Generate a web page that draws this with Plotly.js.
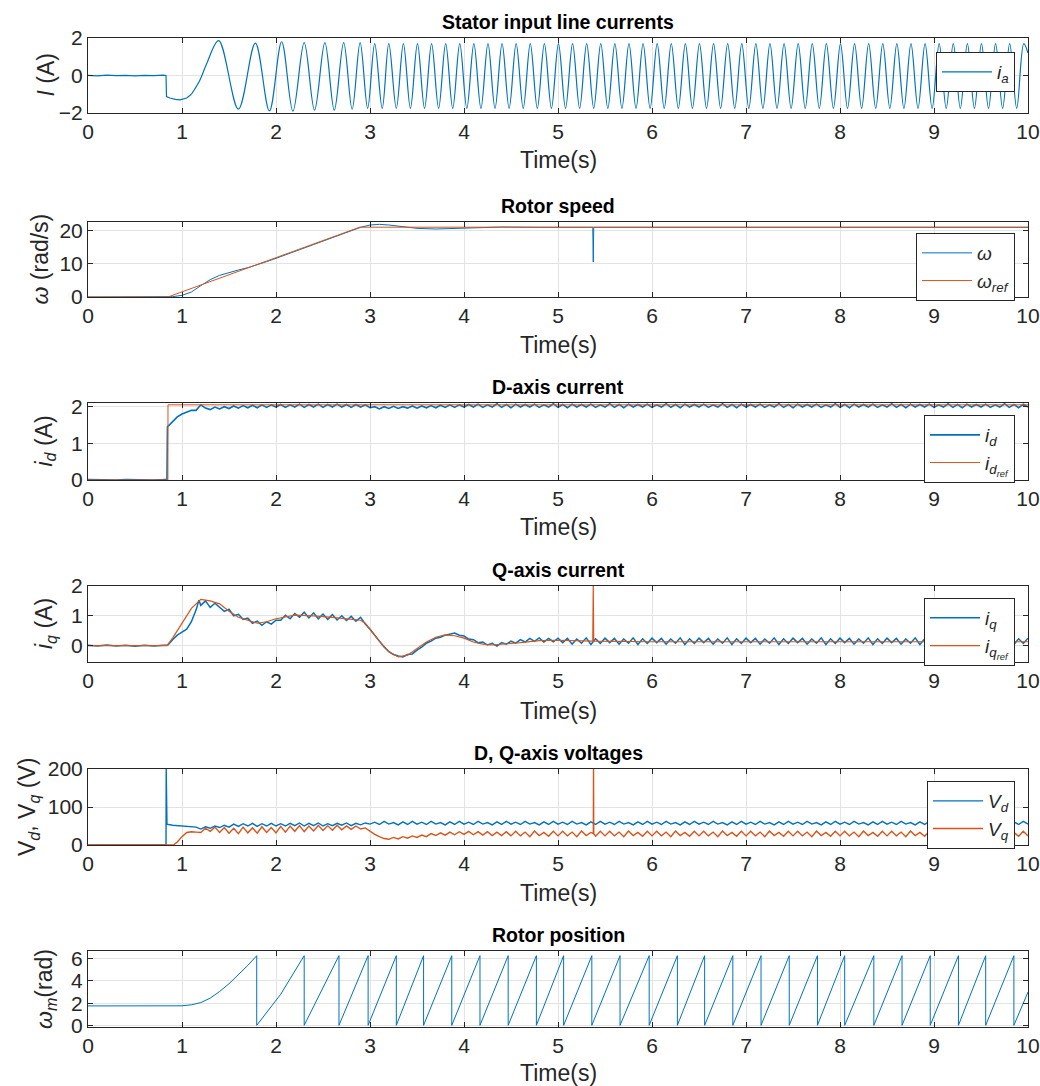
<!DOCTYPE html>
<html><head><meta charset="utf-8">
<script src="https://cdn.plot.ly/plotly-3.0.1.min.js"></script>
<style>html,body{margin:0;padding:0;background:#fff}#c{width:1040px;height:1086px}</style>
</head><body><div id="c"></div>
<script>
// ---- Stator current i_a ----
const iaStartT = [0,0.1,0.2,0.3,0.4,0.5,0.6,0.7,0.8,0.83,0.835,0.87,0.93,0.98,1.05,1.1];
const iaStartV = [0.01,-0.02,0.02,-0.01,0.01,-0.02,0.01,-0.01,0.02,0,-1.12,-1.2,-1.27,-1.3,-1.2,-1.0];
const iaExtT = [1.1,1.19,1.26,1.39,1.6,1.78,1.93,2.06,2.18,2.3,2.41,2.52,2.62,2.72,2.81,2.895,2.975,3.05,3.13,3.2,3.28,3.355,3.43,3.505,3.58,3.655,3.73,3.805,3.88,3.955,4.03,4.105,4.18,4.255,4.33,4.405,4.48,4.555,4.63,4.705,4.78,4.855,4.93,5.005,5.08,5.155,5.23,5.305,5.38,5.455,5.53,5.605,5.68,5.755,5.83,5.905,5.98,6.055,6.13,6.205,6.28,6.355,6.43,6.505,6.58,6.655,6.73,6.805,6.88,6.955,7.03,7.105,7.18,7.255,7.33,7.405,7.48,7.555,7.63,7.705,7.78,7.855,7.93,8.005,8.08,8.155,8.23,8.305,8.38,8.455,8.53,8.605,8.68,8.755,8.83,8.905,8.98,9.055,9.13,9.205,9.28,9.355,9.43,9.505,9.58,9.655,9.73,9.805,9.88,9.955,10.0];
const iaExtV = [-1.0,-0.25,0.6,1.86,-1.79,1.73,-1.89,1.8,-1.9,1.75,-1.85,1.75,-1.85,1.75,-1.8,1.75,-1.75,1.7,-1.75,1.7,-1.75,1.7,-1.75,1.7,-1.75,1.7,-1.75,1.7,-1.75,1.7,-1.75,1.7,-1.75,1.7,-1.75,1.7,-1.75,1.7,-1.75,1.7,-1.75,1.7,-1.75,1.7,-1.75,1.7,-1.75,1.7,-1.75,1.7,-1.75,1.7,-1.75,1.7,-1.75,1.7,-1.75,1.7,-1.75,1.7,-1.75,1.7,-1.75,1.7,-1.75,1.7,-1.75,1.7,-1.75,1.7,-1.75,1.7,-1.75,1.7,-1.75,1.7,-1.75,1.7,-1.75,1.7,-1.75,1.7,-1.75,1.7,-1.75,1.7,-1.75,1.7,-1.75,1.7,-1.75,1.7,-1.75,1.7,-1.75,1.7,-1.75,1.7,-1.75,1.7,-1.75,1.7,-1.75,1.7,-1.75,1.7,-1.75,1.7,-1.75,1.7,1.2];

// ---- Rotor speed ----
const wT = [0,0.87,0.9,1.0,1.05,1.1,1.2,1.3,1.4,1.5,1.6,1.7,1.8,1.9,2.0,2.2,2.4,2.6,2.8,2.9,3.0,3.1,3.2,3.3,3.5,3.7,3.9,4.1,4.4,4.8,5.37,5.375,5.38,10];
const wV = [0,0,0.1,0.5,0.9,1.5,3.4,5.2,6.5,7.4,8.1,8.8,9.6,10.6,11.6,13.7,15.8,17.9,20.0,20.9,21.6,21.8,21.6,21.2,20.6,20.4,20.6,20.9,21.0,20.9,20.9,10.5,20.9,20.9];
const wRefT = [0,0.85,2.89,10];
const wRefV = [0,0,20.94,20.94];

// ---- common time grid (1.2 s .. 10 s) for the rippled signals ----
const tFine = [1.2,1.25,1.3,1.35,1.4,1.45,1.5,1.55,1.6,1.65,1.7,1.75,1.8,1.85,1.9,1.95,2.0,
2.05,2.1,2.15,2.2,2.25,2.3,2.35,2.4,2.45,2.5,2.55,2.6,2.65,2.7,2.75,2.8,2.85,2.9,2.95,3.0,
3.05,3.1,3.15,3.2,3.25,3.3,3.35,3.4,3.45,3.5,3.55,3.6,3.65,3.7,3.75,3.8,3.85,3.9,3.95,4.0,
4.05,4.1,4.15,4.2,4.25,4.3,4.35,4.4,4.45,4.5,4.55,4.6,4.65,4.7,4.75,4.8,4.85,4.9,4.95,5.0,
5.05,5.1,5.15,5.2,5.25,5.3,5.35,5.4,5.45,5.5,5.55,5.6,5.65,5.7,5.75,5.8,5.85,5.9,5.95,6.0,
6.05,6.1,6.15,6.2,6.25,6.3,6.35,6.4,6.45,6.5,6.55,6.6,6.65,6.7,6.75,6.8,6.85,6.9,6.95,7.0,
7.05,7.1,7.15,7.2,7.25,7.3,7.35,7.4,7.45,7.5,7.55,7.6,7.65,7.7,7.75,7.8,7.85,7.9,7.95,8.0,
8.05,8.1,8.15,8.2,8.25,8.3,8.35,8.4,8.45,8.5,8.55,8.6,8.65,8.7,8.75,8.8,8.85,8.9,8.95,9.0,
9.05,9.1,9.15,9.2,9.25,9.3,9.35,9.4,9.45,9.5,9.55,9.6,9.65,9.7,9.75,9.8,9.85,9.9,9.95,10.0];

// ---- D-axis current ----
const idPreT = [0,0.1,0.2,0.3,0.4,0.5,0.6,0.7,0.8,0.84,0.845,0.9,0.95,1.0,1.05,1.1,1.15];
const idPreV = [0.01,0.0,0.01,0.0,0.01,0.0,0.01,0.0,0.01,0.02,1.45,1.6,1.72,1.8,1.85,1.9,1.9];
const idFineV = [2.05,1.96,1.92,1.99,1.94,2.0,1.95,2.02,1.96,2.03,1.97,2.04,1.97,2.05,1.98,2.05,1.99,
2.06,1.98,2.05,1.99,2.07,1.98,2.06,1.99,2.07,1.98,2.06,1.99,2.07,1.99,2.06,1.98,2.06,1.99,2.05,1.97,
2.0,1.94,2.0,1.95,2.01,1.95,2.0,1.96,2.02,1.96,2.02,1.97,2.03,1.97,2.04,1.98,2.05,1.98,2.05,1.99,
2.06,1.99,2.07,1.98,2.05,1.99,2.08,1.98,2.06,1.97,2.07,1.99,2.06,1.99,2.07,1.98,2.05,1.99,2.08,1.98,
2.06,1.97,2.07,1.99,2.06,1.99,2.07,1.98,2.05,1.99,2.08,1.98,2.06,1.97,2.07,1.99,2.06,1.99,2.07,1.98,
2.05,1.99,2.08,1.98,2.06,1.97,2.07,1.99,2.06,1.99,2.07,1.98,2.05,1.99,2.08,1.98,2.06,1.97,2.07,1.99,
2.06,1.99,2.07,1.98,2.05,1.99,2.08,1.98,2.06,1.97,2.07,1.99,2.06,1.99,2.07,1.98,2.05,1.99,2.08,1.98,
2.06,1.97,2.07,1.99,2.06,1.99,2.07,1.98,2.05,1.99,2.08,1.98,2.06,1.97,2.07,1.99,2.06,1.99,2.07,1.98,
2.05,1.99,2.08,1.98,2.06,1.97,2.07,1.99,2.06,1.99,2.07,1.98,2.05,1.99,2.08,1.98,2.06,1.97,2.07,1.99];
const idRefT = [0,0.85,0.851,10];
const idRefV = [0,0,2.05,2.05];

// ---- Q-axis current ----
const iqPreT = [0,0.1,0.2,0.3,0.4,0.5,0.6,0.7,0.8,0.85,0.9,0.95,1.0,1.05,1.1,1.15,1.18];
const iqPreV = [0.01,-0.01,0.02,-0.01,0.01,-0.02,0.01,-0.01,0.01,0.02,0.2,0.35,0.45,0.55,0.8,1.2,1.52];
const iqFineV = [1.35,1.5,1.28,1.42,1.3,1.15,1.22,1.0,1.05,0.88,0.92,0.75,0.82,0.68,0.8,0.72,0.85,
0.85,1.02,0.9,1.08,0.95,1.12,0.93,1.1,0.9,1.06,0.88,1.04,0.86,1.0,0.84,0.98,0.82,0.95,0.72,0.55,
0.35,0.15,-0.05,-0.2,-0.3,-0.35,-0.38,-0.3,-0.28,-0.15,-0.05,0.08,0.15,0.25,0.28,0.35,0.38,0.42,0.35,0.32,
0.22,0.2,0.1,0.12,0.02,0.08,-0.02,0.1,0.05,0.15,0.08,0.2,0.12,0.24,0.14,0.26,0.12,0.24,0.13,0.25,
0.1,0.24,0.05,0.22,0.08,0.26,0.04,0.23,0.07,0.25,0.1,0.24,0.05,0.22,0.08,0.26,0.04,0.23,0.07,0.25,
0.1,0.24,0.05,0.22,0.08,0.26,0.04,0.23,0.07,0.25,0.1,0.24,0.05,0.22,0.08,0.26,0.04,0.23,0.07,0.25,
0.1,0.24,0.05,0.22,0.08,0.26,0.04,0.23,0.07,0.25,0.1,0.24,0.05,0.22,0.08,0.26,0.04,0.23,0.07,0.25,
0.1,0.24,0.05,0.22,0.08,0.26,0.04,0.23,0.07,0.25,0.1,0.24,0.05,0.22,0.08,0.26,0.04,0.23,0.07,0.25,
0.1,0.24,0.05,0.22,0.08,0.26,0.04,0.23,0.07,0.25,0.1,0.24,0.05,0.22,0.08,0.26,0.04,0.23,0.07,0.25];
const iqRefT = [0,0.84,0.9,1.0,1.1,1.2,1.3,1.4,1.5,1.6,1.7,1.8,1.9,2.0,2.2,2.4,2.6,2.8,2.9,2.95,3.0,3.1,3.2,3.3,3.4,3.5,3.6,3.7,3.8,3.9,4.0,4.1,4.2,4.3,4.4,4.6,4.8,5.0,5.37,5.375,5.38,6,7,8,9,10];
const iqRefV = [0,0,0.25,0.75,1.25,1.55,1.5,1.4,1.15,0.95,0.85,0.75,0.8,0.9,1.02,1.0,0.95,0.9,0.85,0.75,0.55,0.15,-0.2,-0.38,-0.32,-0.1,0.12,0.28,0.36,0.33,0.25,0.12,0.05,0.02,0.04,0.1,0.17,0.18,0.15,2.0,0.15,0.13,0.13,0.13,0.13,0.13];

// ---- D, Q-axis voltages ----
const vdPreT = [0,0.83,0.832,0.84,0.9,1.0,1.1,1.15];
const vdPreV = [0,0,200,55,52,50,48,47];
const vdFineV = [42,48,44,50,46,52,47,55,49,56,50,57,49,56,50,57,50,
56,50,57,51,58,50,57,51,58,50,56,51,57,52,58,51,57,53,58,55,
60,54,62,55,59,53,61,54,62,55,60,54,62,55,59,53,61,54,62,55,
60,54,62,55,59,53,61,54,62,55,60,54,62,55,59,53,61,54,62,55,
60,54,62,55,59,53,61,54,62,55,60,54,62,55,59,53,61,54,62,55,
60,54,62,55,59,53,61,54,62,55,60,54,62,55,59,53,61,54,62,55,
60,54,62,55,59,53,61,54,62,55,60,54,62,55,59,53,61,54,62,55,
60,54,62,55,59,53,61,54,62,55,60,54,62,55,59,53,61,54,62,55,
60,54,62,55,59,53,61,54,62,55,60,54,62,55,59,53,61,54,62,55];
const vqPreT = [0,0.91,0.95,1.0,1.05,1.1,1.15];
const vqPreV = [0,0,8,22,33,35,34];
const vqFineV = [33,44,36,47,33,46,31,44,30,47,32,45,31,48,33,46,32,
49,34,50,36,51,35,50,37,52,38,51,39,52,40,50,41,50,42,45,36,
28,22,17,15,20,16,22,18,24,20,26,22,30,25,32,26,34,27,35,28,
36,27,35,26,35,25,34,25,35,24,36,24,34,22,37,25,33,23,36,24,
36,24,34,22,37,25,33,23,36,24,36,24,34,22,37,25,33,23,36,24,
36,24,34,22,37,25,33,23,36,24,36,24,34,22,37,25,33,23,36,24,
36,24,34,22,37,25,33,23,36,24,36,24,34,22,37,25,33,23,36,24,
36,24,34,22,37,25,33,23,36,24,36,24,34,22,37,25,33,23,36,24,
36,24,34,22,37,25,33,23,36,24,36,24,34,22,37,25,33,23,36,24];
const vqSpikeT = [5.376,5.378,5.38];
const vqSpikeV = [30,200,30];

// ---- Rotor position ----
const posT = [0,1.0,1.1,1.2,1.3,1.4,1.5,1.6,1.7,1.795,1.795,2.05,2.3,2.3,2.67,2.67,2.98,2.98,3.28,3.28,3.57,3.57,3.87,3.87,4.17,4.17,4.47,4.47,4.77,4.77,5.06,5.06,5.36,5.36,5.66,5.66,5.97,5.97,6.27,6.27,6.56,6.56,6.86,6.86,7.16,7.16,7.46,7.46,7.76,7.76,8.05,8.05,8.36,8.36,8.66,8.66,8.96,8.96,9.26,9.26,9.55,9.55,9.85,9.85,10.0];
const posV = [1.75,1.76,1.85,2.05,2.45,3.05,3.75,4.55,5.4,6.28,0,2.8,6.28,0,6.28,0,6.28,0,6.28,0,6.28,0,6.28,0,6.28,0,6.28,0,6.28,0,6.28,0,6.28,0,6.28,0,6.28,0,6.28,0,6.28,0,6.28,0,6.28,0,6.28,0,6.28,0,6.28,0,6.28,0,6.28,0,6.28,0,6.28,0,6.28,0,6.28,0,3.0];

function merge(tA, vA, tB, vB){
  const p = tA.map((t,i)=>[t,vA[i]]).concat(tB.map((t,i)=>[t,vB[i]]));
  p.sort((a,b)=>a[0]-b[0]);
  return {x:p.map(q=>q[0]), y:p.map(q=>q[1])};
}
const vq = merge(vqPreT.concat(tFine), vqPreV.concat(vqFineV), vqSpikeT, vqSpikeV);

const BLUE = '#0072BD', ORANGE = '#D95319';
const traces = [
  {x: iaStartT, y: iaStartV, xaxis:'x', yaxis:'y', mode:'lines', line:{color:BLUE,width:1.2}, showlegend:false, legend:'legend'},
  {x: iaExtT, y: iaExtV, xaxis:'x', yaxis:'y', mode:'lines', line:{color:BLUE,width:1.2,shape:'spline',smoothing:1}, name:'<i>i<sub>a</sub></i>', legend:'legend'},
  {x: wT, y: wV, xaxis:'x2', yaxis:'y2', mode:'lines', line:{color:BLUE,width:1}, name:'<i>ω</i>', legend:'legend2'},
  {x: wRefT, y: wRefV, xaxis:'x2', yaxis:'y2', mode:'lines', line:{color:ORANGE,width:1}, name:'<i>ω<sub>ref</sub></i>', legend:'legend2'},
  {x: idPreT.concat(tFine), y: idPreV.concat(idFineV), xaxis:'x3', yaxis:'y3', mode:'lines', line:{color:BLUE,width:1.6}, name:'<i>i<sub>d</sub></i>', legend:'legend3'},
  {x: idRefT, y: idRefV, xaxis:'x3', yaxis:'y3', mode:'lines', line:{color:ORANGE,width:1}, name:'<i>i<sub>d<sub>ref</sub></sub></i>', legend:'legend3'},
  {x: iqPreT.concat(tFine), y: iqPreV.concat(iqFineV), xaxis:'x4', yaxis:'y4', mode:'lines', line:{color:BLUE,width:1.5}, name:'<i>i<sub>q</sub></i>', legend:'legend4'},
  {x: iqRefT, y: iqRefV, xaxis:'x4', yaxis:'y4', mode:'lines', line:{color:ORANGE,width:1.2}, name:'<i>i<sub>q<sub>ref</sub></sub></i>', legend:'legend4'},
  {x: vdPreT.concat(tFine), y: vdPreV.concat(vdFineV), xaxis:'x5', yaxis:'y5', mode:'lines', line:{color:BLUE,width:1.4}, name:'<i>V<sub>d</sub></i>', legend:'legend5'},
  {x: vq.x, y: vq.y, xaxis:'x5', yaxis:'y5', mode:'lines', line:{color:ORANGE,width:1.4}, name:'<i>V<sub>q</sub></i>', legend:'legend5'},
  {x: posT, y: posV, xaxis:'x6', yaxis:'y6', mode:'lines', line:{color:BLUE,width:1}, showlegend:false}
];

const FONT = 'Liberation Sans, Arial, Helvetica, sans-serif';
const TXT = '#262626';
const H = 989, BOT = 1027, L = 88, W = 940;
function py(p){ return (BOT-p)/H; }
function px(p){ return (p-L)/W; }
const boxes = [[38,113],[222,297],[403,480],[586,662],[769,845],[951,1027]];
const yRanges = [[-2,2],[0,22.5],[0,2.1],[-0.55,2],[0,200],[-0.15,6.7]];
const yTicks = [[-2,0,2],[0,10,20],[0,1,2],[0,1,2],[0,100,200],[0,2,4,6]];
const yTitles = ['<i>I</i> (A)','<i>ω</i> (rad/s)','<i>i<sub>d</sub></i> (A)','<i>i<sub>q</sub></i> (A)','V<sub><i>d</i></sub>, V<sub><i>q</i></sub> (V)','<i>ω<sub>m</sub></i>(rad)'];
const yTitleX = [46,40,45,45,28,45];
const xTitleY = [160,345,527,711,893,1073];
const titles = ['Stator input line currents','Rotor speed','D-axis current','Q-axis current','D, Q-axis voltages','Rotor position'];
const legendPos = [[1015,52],[1015,233],[1015,415],[1015,598],[1015,781]];

const layout = {
  width:1040, height:1086, paper_bgcolor:'#fff', plot_bgcolor:'#fff',
  margin:{l:L, r:12, t:38, b:59},
  font:{family:FONT, color:TXT, size:21},
  annotations: [], showlegend:true
};
for (let i=0;i<6;i++){
  const k = i===0 ? '' : String(i+1);
  const top = boxes[i][0], bot = boxes[i][1];
  layout['xaxis'+k] = {
    domain:[0,1], anchor:'y'+k, range:[0,10], tickvals:[0,1,2,3,4,5,6,7,8,9,10],
    ticks:'inside', ticklen:5, tickcolor:TXT, showline:true, linecolor:TXT, linewidth:1, mirror:'ticks',
    showgrid:true, gridcolor:'#e3e3e3', zeroline:false, tickfont:{size:21, color:TXT}
  };
  layout['yaxis'+k] = {
    domain:[py(bot), py(top)], anchor:'x'+k, range:yRanges[i], tickvals:yTicks[i],
    ticks:'inside', ticklen:5, tickcolor:TXT, showline:true, linecolor:TXT, linewidth:1, mirror:'ticks',
    showgrid:true, gridcolor:'#e3e3e3', zeroline:false, tickfont:{size:21, color:TXT}
  };
  layout.annotations.push({text:'<b>'+titles[i]+'</b>', xref:'paper', yref:'paper', x:0.5, y:py(top-16),
    xanchor:'center', yanchor:'middle', showarrow:false, font:{size:19.5, color:'#000'}});
  layout.annotations.push({text:'Time(s)', xref:'paper', yref:'paper', x:0.5, y:py(xTitleY[i]),
    xanchor:'center', yanchor:'middle', showarrow:false, font:{size:23, color:TXT}});
  layout.annotations.push({text:yTitles[i], xref:'paper', yref:'paper', x:px(yTitleX[i]), y:py((top+bot)/2),
    xanchor:'center', yanchor:'middle', textangle:-90, showarrow:false, font:{size:23, color:TXT}});
}
for (let i=0;i<5;i++){
  const k = i===0 ? 'legend' : 'legend'+(i+1);
  layout[k] = {x:px(legendPos[i][0]), y:py(legendPos[i][1]), xanchor:'right', yanchor:'top',
    bgcolor:'#fff', bordercolor:'#262626', borderwidth:1, font:{size:19, color:TXT}, tracegroupgap:0, itemwidth:50};
}
Plotly.newPlot('c', traces, layout, {staticPlot:true, displayModeBar:false});
</script></body></html>
